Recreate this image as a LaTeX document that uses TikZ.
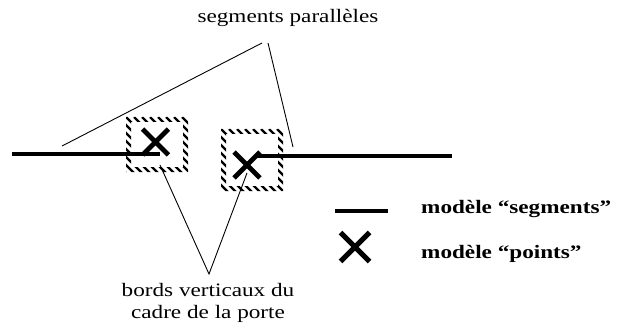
\documentclass[tikz,border=0pt]{standalone}
\usepackage{fontspec}
\usepackage{graphicx}
\setmainfont{Liberation Serif}
\usetikzlibrary{shapes.misc}
\newcommand{\wtxt}[1]{\scalebox{1.22}[1]{#1}}
\tikzset{
  seg/.style={line width=4pt},
  thin/.style={line width=0.9pt},
  xmark/.style={cross out, draw, line width=4.8pt, minimum size=21pt, inner sep=0pt},
  lbl/.style={font=\fontsize{19}{22}\selectfont, inner sep=0pt, align=center},
  legtxt/.style={font=\fontsize{19}{22}\selectfont\bfseries, inner sep=0pt, anchor=west},
  hatch/.style={line width=2.3pt}
}
\begin{document}
\begin{tikzpicture}[x=1pt,y=-1pt]
\useasboundingbox (0,0) rectangle (620,331);
% labels
\node[lbl] (title) at (288,18) {\wtxt{segments parallèles}};
\node[lbl] (bottom) at (208,303) {\wtxt{bords verticaux du}\\[0pt]\wtxt{cadre de la porte}};
% hatched frames
\begin{scope}[even odd rule]
  \clip (126,117) rectangle (188,172) (131,122) rectangle (183,167);
  \foreach \i in {-80,-72,...,80} \draw[hatch] (\i+126,117) -- ++(70,70);
\end{scope}
\begin{scope}[even odd rule]
  \clip (221,129) rectangle (283,191) (226,134) rectangle (278,186);
  \foreach \i in {-80,-72,...,80} \draw[hatch] (\i+221,129) -- ++(70,70);
\end{scope}
% segments
\coordinate (s1a) at (12,154);
\coordinate (s1b) at (160,154);
\coordinate (s2a) at (257,156);
\coordinate (s2b) at (452,156);
\draw[seg] (s1a) -- (s1b);
\draw[seg] (s2a) -- (s2b);
% crosses
\node[xmark] (c1) at (155.5,142) {};
\node[xmark] (c2) at (247,165) {};
% connectors
\coordinate (tA) at (262,43);
\coordinate (tB) at (268,43);
\coordinate (pL) at (62,146);
\coordinate (pR) at (293,147);
\draw[thin] (tA) -- (pL);
\draw[thin] (tB) -- (pR);
\coordinate (bA) at (209,274);
\coordinate (q1) at (160,165);
\coordinate (q2) at (247,173);
\draw[thin] (q1) -- (bA) -- (q2);
% legend
\coordinate (la) at (335,211);
\coordinate (lb) at (388,211);
\draw[seg,line width=4.5pt] (la) -- (lb);
\node[xmark, minimum size=24pt, line width=5pt] (lx) at (355,247) {};
\node[legtxt] (l1) at (421,209) {\wtxt{modèle “segments”}};
\node[legtxt] (l2) at (421,254) {\wtxt{modèle “points”}};
\end{tikzpicture}
\end{document}
